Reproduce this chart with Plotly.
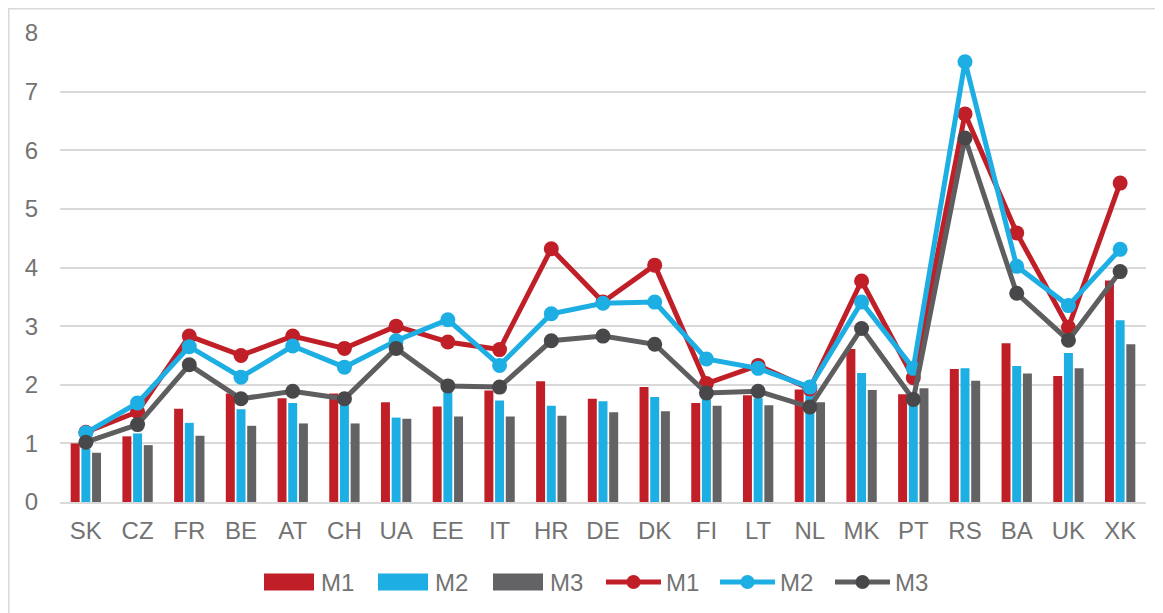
import plotly.graph_objects as go

countries = ["SK", "CZ", "FR", "BE", "AT", "CH", "UA", "EE", "IT", "HR", "DE",
             "DK", "FI", "LT", "NL", "MK", "PT", "RS", "BA", "UK", "XK"]

bar_m1 = [1.00, 1.12, 1.59, 1.85, 1.77, 1.85, 1.70, 1.63, 1.90, 2.06, 1.76,
          1.96, 1.69, 1.82, 1.92, 2.61, 1.84, 2.27, 2.71, 2.15, 3.78]
bar_m2 = [0.91, 1.17, 1.35, 1.58, 1.69, 1.70, 1.44, 1.88, 1.73, 1.64, 1.72,
          1.79, 1.85, 1.77, 1.90, 2.20, 1.80, 2.28, 2.32, 2.54, 3.10]
bar_m3 = [0.84, 0.97, 1.13, 1.30, 1.34, 1.34, 1.42, 1.46, 1.46, 1.47, 1.53,
          1.55, 1.64, 1.65, 1.70, 1.91, 1.94, 2.07, 2.19, 2.28, 2.69]

line_m1 = [1.19, 1.54, 2.83, 2.50, 2.83, 2.62, 3.00, 2.73, 2.60, 4.32, 3.41,
           4.04, 2.02, 2.33, 1.93, 3.77, 2.12, 6.62, 4.59, 2.98, 5.44]
line_m2 = [1.18, 1.69, 2.65, 2.13, 2.66, 2.30, 2.75, 3.11, 2.33, 3.21, 3.39,
           3.41, 2.44, 2.28, 1.96, 3.41, 2.28, 7.51, 4.02, 3.35, 4.31]
line_m3 = [1.02, 1.32, 2.34, 1.76, 1.89, 1.76, 2.62, 1.98, 1.96, 2.75, 2.83,
           2.69, 1.86, 1.89, 1.62, 2.96, 1.75, 6.21, 3.56, 2.76, 3.93]

series_names = ["M1", "M2", "M3"]

RED = "#C11F28"
BLUE = "#1DAEE3"
GRAY_BAR = "#636365"
GRAY_LINE = "#5E5E60"
GRAY_MARK = "#48484A"
TEXT = "#737373"
GRID = "#D9D9D9"
FONT = "Liberation Sans, Arial, sans-serif"

W, H = 1163, 613
ML, MR, MT, MB = 52, 25, 25, 119
PW, PH = W - ML - MR, H - MT - MB


def px(x):
    return (x - ML) / PW


def py(y):
    return (H - MB - y) / PH


fig = go.Figure()
bar_cols = [RED, BLUE, GRAY_BAR]
for name, vals, col in zip(series_names, [bar_m1, bar_m2, bar_m3], bar_cols):
    fig.add_trace(go.Bar(x=countries, y=vals, name=name, showlegend=False,
                         marker=dict(color=col, line=dict(width=0))))

line_cols = [RED, BLUE, GRAY_LINE]
mark_cols = [RED, BLUE, GRAY_MARK]
for name, vals, col, mcol in zip(series_names, [line_m1, line_m2, line_m3], line_cols, mark_cols):
    fig.add_trace(go.Scatter(x=countries, y=vals, name=name, mode="lines+markers", showlegend=False,
                             line=dict(color=col, width=5),
                             marker=dict(color=mcol, size=15)))

# manual legend (figure-pixel layout)
shapes = [dict(type="rect", xref="paper", yref="paper",
               x0=px(0.5), x1=px(W + 20), y0=py(H + 20), y1=py(0.5),
               line=dict(color=GRID, width=2), fillcolor="rgba(0,0,0,0)", layer="below")]
annotations = []
leg_y = 574
bar_x = [256, 370, 485]
for x0, col, name in zip(bar_x, bar_cols, series_names):
    shapes.append(dict(type="rect", xref="paper", yref="paper",
                       x0=px(x0), x1=px(x0 + 50), y0=py(leg_y + 8.5), y1=py(leg_y - 8.5),
                       line=dict(width=0), fillcolor=col))
    annotations.append(dict(x=px(x0 + 55), y=py(leg_y), xref="paper", yref="paper",
                            text=name, showarrow=False, xanchor="left", yanchor="middle",
                            font=dict(size=24, color=TEXT, family=FONT)))
line_x = [598, 712, 827]
for x0, col, mcol, name in zip(line_x, line_cols, mark_cols, series_names):
    shapes.append(dict(type="line", xref="paper", yref="paper",
                       x0=px(x0), x1=px(x0 + 55), y0=py(leg_y), y1=py(leg_y),
                       line=dict(color=col, width=5)))
    shapes.append(dict(type="circle", xref="paper", yref="paper",
                       x0=px(x0 + 27.5 - 7), x1=px(x0 + 27.5 + 7),
                       y0=py(leg_y + 7), y1=py(leg_y - 7),
                       line=dict(width=0), fillcolor=mcol))
    annotations.append(dict(x=px(x0 + 58), y=py(leg_y), xref="paper", yref="paper",
                            text=name, showarrow=False, xanchor="left", yanchor="middle",
                            font=dict(size=24, color=TEXT, family=FONT)))

fig.update_layout(
    width=W, height=H,
    margin=dict(l=ML, r=MR, t=MT, b=MB, autoexpand=False),
    paper_bgcolor="white", plot_bgcolor="white",
    barmode="group", bargap=0.38, bargroupgap=0.16,
    font=dict(family=FONT, color=TEXT),
    showlegend=False,
    shapes=shapes,
    annotations=annotations,
)
fig.update_xaxes(range=[-0.5, 20.5], showgrid=False, showline=True, linecolor=GRID, linewidth=2,
                 tickfont=dict(size=24, color=TEXT), ticks="", ticklabelstandoff=6,
                 automargin=False)
fig.update_yaxes(range=[0, 8], dtick=1, showgrid=True, gridcolor=GRID, gridwidth=1.5,
                 zeroline=False, showline=False, tickfont=dict(size=24, color=TEXT),
                 ticklabelstandoff=21, automargin=False)

fig.write_html("out.html")
